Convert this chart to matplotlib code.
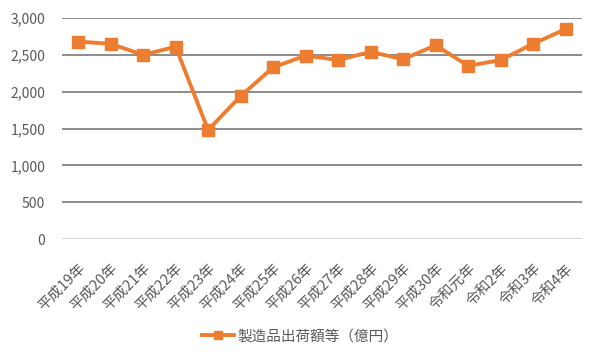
import matplotlib
matplotlib.use('Agg')
import matplotlib.pyplot as plt
from matplotlib.ticker import FuncFormatter

plt.rcParams['font.family'] = ['Noto Sans CJK JP', 'DejaVu Sans']

years = ['平成19年', '平成20年', '平成21年', '平成22年', '平成23年', '平成24年',
         '平成25年', '平成26年', '平成27年', '平成28年', '平成29年', '平成30年',
         '令和元年', '令和2年', '令和3年', '令和4年']
shipments = [2680, 2650, 2500, 2610, 1480, 1940, 2330, 2490, 2430, 2540,
             2440, 2630, 2350, 2430, 2650, 2850]
yticks = [0, 500, 1000, 1500, 2000, 2500, 3000]

orange = '#ED7D31'
text_grey = '#595959'

fig = plt.figure(figsize=(6, 3.6), dpi=100)
ax = fig.add_axes([0.103, 0.336, 0.867, 0.614])

x = list(range(len(years)))
line, = ax.plot(x, shipments, color=orange, lw=2.8, marker='s', ms=8,
                label='製造品出荷額等（億円）', zorder=3)

ax.set_xlim(-0.5, len(years) - 0.5)
ax.set_ylim(0, 3000)
ax.set_yticks(yticks)
ax.yaxis.set_major_formatter(FuncFormatter(lambda v, p: f'{int(v):,}'))
for v in yticks[1:]:
    ax.axhline(v, color='#8C8C8C', lw=1.4, zorder=1)
ax.axhline(0, color='#D9D9D9', lw=1.4, zorder=1)

ax.set_xticks(x)
ax.set_xticklabels(years, rotation=45, ha='right', rotation_mode='anchor')
ax.tick_params(axis='both', length=0, colors=text_grey, labelsize=10)
ax.tick_params(axis='x', pad=16, labelsize=10.5)
ax.tick_params(axis='y', pad=12)
for s in ax.spines.values():
    s.set_visible(False)

fig.legend(handles=[line], loc='center', bbox_to_anchor=(0.5, 0.065),
           frameon=False, fontsize=10.5, labelcolor=text_grey,
           handlelength=2.2, handletextpad=0.2, markerscale=0.75)

fig.savefig('out.png', dpi=100)
